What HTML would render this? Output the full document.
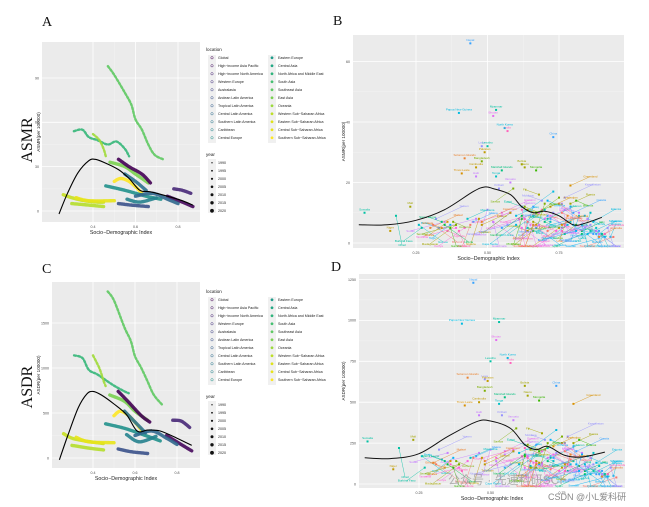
<!DOCTYPE html>
<html><head><meta charset="utf-8">
<style>
html,body{margin:0;padding:0;background:#fff;}
svg{display:block;font-family:"Liberation Sans","Noto Sans CJK SC",sans-serif;}
.serif{font-family:"Liberation Serif",serif;}
</style></head>
<body>
<svg id="fig" width="649" height="507" viewBox="0 0 649 507"></svg>
<script>
// ---------- DATA: panel A/C regional trajectories (SDI, value) ----------
const regionNames = ["East Asia","South Asia","Oceania","Southeast Asia","Global","Central Sub-Saharan Africa","Caribbean","Central Latin America","High-income North America","Western Europe","Andean Latin America","Tropical Latin America","Central Europe","Western Sub-Saharan Africa","Eastern Sub-Saharan Africa","Southern Sub-Saharan Africa"];
const regionColors = ["#5ec962","#35b779","#a0da39","#7ad151","#440154","#fde725","#21918c","#2c728e","#482878","#46085c","#3b528b","#31688e","#26828e","#b5de2b","#c8e020","#e8e419"];
const asmrSdi = [
 [0.47,0.5,0.55,0.58,0.6,0.63,0.66,0.69,0.73],
 [0.31,0.35,0.38,0.42,0.47,0.51,0.55,0.57],
 [0.4,0.43,0.45,0.46],
 [0.48,0.55,0.6,0.66],
 [0.52,0.57,0.63,0.67],
 [0.5,0.53,0.57,0.61,0.63],
 [0.46,0.55,0.65,0.72],
 [0.55,0.6,0.65],
 [0.78,0.82,0.86],
 [0.75,0.82,0.87],
 [0.52,0.58,0.66],
 [0.6,0.68,0.75,0.8],
 [0.56,0.62,0.7],
 [0.3,0.38,0.45],
 [0.26,0.3,0.36,0.42,0.45],
 [0.32,0.38,0.5]];
const asmrVal = [
 [98,92,80,72,62,55,45,38,35],
 [54,55,50,48,45,47,42,37],
 [52,48,42,37],
 [33,30,25,19],
 [35,30,25,19],
 [20,22,20,15,12],
 [17,14,10,8],
 [25,20,14],
 [15,14,12],
 [10,6,3],
 [5,4,3],
 [10,12,8,5],
 [8,6,9],
 [5,4,3],
 [11,9,7,6,6],
 [9,7,7]];
const asdrVal = [
 [1850,1750,1450,1300,1130,1000,850,700,590],
 [1140,1110,980,930,850,790,740,720],
 [1140,1000,860,800],
 [700,630,520,420],
 [740,620,470,400],
 [470,520,470,370,310],
 [380,330,250,190],
 [520,400,280],
 [420,410,340],
 [250,150,80],
 [100,70,50],
 [250,300,220,150],
 [260,180,240],
 [140,110,90],
 [270,220,190,170,160],
 [230,180,170]];
const asmrCurveSdi = [0.24,0.28,0.33,0.38,0.41,0.45,0.52,0.57,0.62,0.67,0.75,0.82,0.87];
const asmrCurveVal = [-2,12,26,34,35,33,28,22,14,13,10,7,4];
const asdrCurveSdi = [0.24,0.28,0.33,0.37,0.4,0.44,0.5,0.56,0.61,0.66,0.72,0.8,0.87];
const asdrCurveVal = [-20,250,560,710,740,700,600,480,300,310,300,220,140];
// ---------- DATA: panel B/D countries ----------
const outName = ["Nepal","Papua New Guinea","Myanmar","Bhutan","North Korea","India","China","Laos","Lesotho","Pakistan","Solomon Islands","Bangladesh","Bolivia","Nauru","Timor-Leste","Cambodia","Haiti","Marshall Islands","Mongolia","Tonga","Somalia","Niger","Mali","Kiribati","Vanuatu"];
const outSdi = [0.44,0.40,0.53,0.52,0.56,0.57,0.73,0.48,0.50,0.49,0.42,0.48,0.62,0.63,0.41,0.46,0.46,0.55,0.67,0.53,0.07,0.16,0.23,0.54,0.58];
const outAsmr = [66,43,44,42,38,37,35,32,32,30,28,27,26,25,23,25,22,24,24,22,10,4,12,18,20];
const outAsdr = [1230,980,990,880,770,740,600,640,750,630,650,570,600,540,480,500,420,530,510,490,260,90,270,420,390];
const cloudName = ["Yemen","Sudan","Chad","Guinea","Benin","Togo","Ghana","Kenya","Uganda","Zambia","Malawi","Angola","Gabon","Congo","Egypt","Iran","Iraq","Syria","Jordan","Turkey","Morocco","Algeria","Tunisia","Libya","Oman","Peru","Chile","Cuba","Brazil","Mexico","Panama","Guyana","Belize","Ecuador","Colombia","Jamaica","Russia","Ukraine","Belarus","Latvia","Estonia","Poland","Romania","Serbia","Hungary","Greece","Italy","Spain","France","Germany","Norway","Sweden","Japan","Korea","Canada","USA","Australia","Georgia","Armenia","Uzbekistan","Kazakhstan","Thailand","Vietnam","Malaysia","Fiji","Samoa","Greenland","Sri Lanka","Indonesia","Philippines",
 "Austria","Belgium","Denmark","Finland","Ireland","Portugal","Netherlands","Switzerland","Czechia","Slovakia","Croatia","Slovenia","Bulgaria","Albania","Moldova","Lithuania","Azerbaijan","Tajikistan","Kyrgyzstan","Turkmenistan","Lebanon","Kuwait","Qatar","Bahrain","Israel","Cyprus","Argentina","Uruguay","Paraguay","Venezuela","Honduras","Nicaragua","Guatemala","El Salvador","Costa Rica","Dominica","Grenada","Bahamas","Barbados","Suriname","Singapore","Brunei","Taiwan","Maldives","Mauritius","Seychelles","Botswana","Namibia","South Africa","Zimbabwe","Eswatini","Tanzania","Rwanda","Burundi","Ethiopia","Eritrea","Djibouti","Madagascar","Comoros","Nigeria","Cameroon","Senegal","Gambia","Liberia","Sierra Leone","Burkina Faso","Mauritania","Cape Verde","Saudi Arabia","UAE"];
const cloudSdi = [0.32,0.35,0.18,0.26,0.33,0.37,0.45,0.42,0.36,0.44,0.30,0.46,0.65,0.52,0.62,0.70,0.60,0.58,0.72,0.73,0.55,0.63,0.68,0.69,0.78,0.66,0.77,0.71,0.64,0.66,0.71,0.58,0.61,0.67,0.64,0.67,0.79,0.75,0.81,0.86,0.87,0.84,0.79,0.77,0.82,0.81,0.83,0.83,0.86,0.91,0.93,0.91,0.90,0.88,0.90,0.88,0.89,0.73,0.71,0.66,0.77,0.68,0.62,0.75,0.68,0.59,0.79,0.66,0.63,0.62,
 0.89,0.89,0.92,0.89,0.88,0.76,0.91,0.94,0.85,0.82,0.80,0.86,0.76,0.72,0.69,0.85,0.72,0.58,0.64,0.70,0.71,0.79,0.83,0.80,0.87,0.84,0.76,0.75,0.66,0.66,0.55,0.57,0.52,0.62,0.74,0.68,0.70,0.76,0.77,0.64,0.85,0.81,0.88,0.63,0.72,0.78,0.67,0.62,0.70,0.50,0.55,0.39,0.40,0.31,0.34,0.36,0.48,0.39,0.38,0.47,0.48,0.39,0.37,0.35,0.34,0.27,0.43,0.60,0.76,0.78];
const cloudAsmr = [8,7,9,6,5,6,7,5,4,6,5,8,6,7,12,11,9,10,8,10,9,8,6,11,7,4,3,9,5,6,4,10,8,5,4,6,13,15,14,10,7,9,12,11,10,6,4,3,4,3,2,2,3,4,3,5,2,17,14,12,15,10,11,13,16,18,19,9,12,8,
 3,4,5,3,4,5,3,2,8,9,10,6,13,9,14,8,12,10,11,13,8,7,6,6,3,5,6,5,7,6,5,6,7,5,4,6,8,4,6,7,3,4,3,8,7,6,10,9,7,11,10,5,4,6,5,7,6,6,7,8,7,6,5,6,7,5,8,6,10,9];
const cloudAsdr = [210,190,220,170,150,160,170,140,120,160,130,190,130,160,240,220,190,200,160,190,180,170,130,210,150,100,80,170,110,130,90,210,170,120,100,130,250,290,270,190,130,170,230,210,190,110,80,60,80,60,50,45,60,80,60,110,45,330,270,240,290,200,220,250,310,340,490,180,240,170,
 60,80,100,60,80,100,60,40,160,180,200,120,250,180,270,160,230,200,210,250,160,140,120,120,60,100,120,100,140,120,100,120,140,100,80,120,160,80,120,140,60,80,60,160,140,120,200,180,140,210,200,100,80,120,100,140,120,120,140,160,140,120,100,120,140,100,160,120,200,180];
const cloudRegion = [9,9,13,13,13,13,13,14,14,14,14,12,12,12,9,9,9,9,9,9,9,9,9,9,9,10,11,6,11,7,7,6,6,10,7,6,0,0,0,1,1,1,1,1,1,4,4,4,4,4,4,4,3,3,2,2,5,8,8,8,8,15,15,15,16,16,2,17,15,15,
 4,4,4,4,4,4,4,4,1,1,1,1,1,1,0,0,8,8,8,8,9,9,9,9,9,9,11,11,11,10,7,7,7,7,7,6,6,6,6,6,3,3,3,17,14,14,12,12,12,14,14,14,14,14,14,14,14,14,14,13,12,13,13,13,13,13,13,13,9,9];
const outRegion = [17,16,15,17,15,17,15,15,13,17,16,17,10,16,15,15,6,16,15,16,9,13,13,16,16];
const hue = ["#F8766D","#EA8331","#D89000","#C09B00","#A3A500","#7CAE00","#39B600","#00BB4E","#00BF7D","#00C1A3","#00BFC4","#00BAE0","#00B0F6","#35A2FF","#9590FF","#C77CFF","#E76BF3","#FA62DB","#FF62BC"];
const xTickVals = [0.4,0.6,0.8];
const bTicksX = [0.25,0.50,0.75];
const aTicksY = [0,30,60,90];
const cTicksY = [0,500,1000,1500];
const bTicksY = [0,20,40,60];
const dTicksY = [0,250,500,750,1000,1250];
const years = ["1990","1995","2000","2005","2010","2015","2020"];

const NS="http://www.w3.org/2000/svg";
const svg=document.getElementById('fig');
function mk(tag,attrs,parent,text){const e=document.createElementNS(NS,tag);for(const k in attrs)e.setAttribute(k,attrs[k]);if(text!==undefined)e.textContent=text;(parent||svg).appendChild(e);return e;}
function smooth(pts){
 let d="M"+pts[0][0].toFixed(1)+","+pts[0][1].toFixed(1);
 for(let i=0;i<pts.length-1;i++){const p0=pts[i-1]||pts[i],p1=pts[i],p2=pts[i+1],p3=pts[i+2]||p2;
  const c1=[p1[0]+(p2[0]-p0[0])/6,p1[1]+(p2[1]-p0[1])/6],c2=[p2[0]-(p3[0]-p1[0])/6,p2[1]-(p3[1]-p1[1])/6];
  d+="C"+c1.map(v=>v.toFixed(1)).join(",")+" "+c2.map(v=>v.toFixed(1)).join(",")+" "+p2.join(",");}
 return d;}

function panel(cfg){
 const g=mk('g',{});
 
 
 const bg=mk('rect',{x:cfg.x0,y:cfg.y0,width:cfg.x1-cfg.x0,height:cfg.y1-cfg.y0,fill:'#ebebeb'},g);
 
 
 const sx=v=>cfg.xa+(v-cfg.xv0)*cfg.xs, sy=v=>cfg.ya-v*cfg.ys;
 for(let i=0;i<cfg.xt.length-1;i++){const m=(sx(cfg.xt[i])+sx(cfg.xt[i+1]))/2;mk('line',{x1:m,x2:m,y1:cfg.y0,y2:cfg.y1,stroke:'#f5f5f5','stroke-width':0.4},g);}
 for(let i=0;i<cfg.yt.length-1;i++){const m=(sy(cfg.yt[i])+sy(cfg.yt[i+1]))/2;mk('line',{x1:cfg.x0,x2:cfg.x1,y1:m,y2:m,stroke:'#f5f5f5','stroke-width':0.4},g);}
 cfg.xt.forEach((v,i)=>{const x=sx(v);mk('line',{x1:x,x2:x,y1:cfg.y0,y2:cfg.y1,stroke:'#fff','stroke-width':0.8},g);
  const t=mk('text',{x:x,y:cfg.y1+6,'font-size':3.6,fill:'#4d4d4d','text-anchor':'middle'},g,cfg.xl[i]);
  });
 cfg.yt.forEach(v=>{const y=sy(v);mk('line',{x1:cfg.x0,x2:cfg.x1,y1:y,y2:y,stroke:'#fff','stroke-width':0.8},g);
  const t=mk('text',{x:cfg.x0-3,y:y+1.3,'font-size':3.6,fill:'#4d4d4d','text-anchor':'end'},g,String(v));
  });
 const xt=mk('text',{x:(cfg.x0+cfg.x1)/2,y:cfg.y1+12,'font-size':5.3,fill:'#222','text-anchor':'middle'},g,'Socio−Demographic Index');
 
 const ycx=cfg.ytx, ycy=(cfg.y0+cfg.y1)/2;
 const yt=mk('text',{x:ycx,y:ycy,'font-size':4.6,fill:'#222','text-anchor':'middle',transform:`rotate(-90 ${ycx} ${ycy})`},g,cfg.ytitle);
 
 return {g,sx,sy};
}

function trajPanel(cfg,vals,cSdi,cVal,legendY){
 const p=panel(cfg);
 asmrSdi.forEach((xs,i)=>{
  const pts=xs.map((s,j)=>[+p.sx(s).toFixed(1),+p.sy(vals[i][j]).toFixed(1)]);
  const path=mk('path',{d:smooth(pts),fill:'none',stroke:regionColors[i],'stroke-width':i<3?2.4:3.4,'stroke-dasharray':i<3?'2 2':'1.6 0.6','stroke-linecap':'round',opacity:0.9},p.g);
  
  
 });
 const cpts=cSdi.map((s,j)=>[+p.sx(s).toFixed(1),+p.sy(cVal[j]).toFixed(1)]);
 const cur=mk('path',{d:smooth(cpts),fill:'none',stroke:'#000','stroke-width':1.1},p.g);
 
 const lg=mk('g',{},p.g);
 
 mk('text',{x:206,y:legendY,'font-size':4.6,fill:'#222'},lg,'location');
 const locs=["Global","High−income Asia Pacific","High−income North America","Western Europe","Australasia","Andean Latin America","Tropical Latin America","Central Latin America","Southern Latin America","Caribbean","Central Europe","Eastern Europe","Central Asia","North Africa and Middle East","South Asia","Southeast Asia","East Asia","Oceania","Western Sub−Saharan Africa","Eastern Sub−Saharan Africa","Central Sub−Saharan Africa","Southern Sub−Saharan Africa"];
 const lcol=["#440154","#471365","#482475","#463480","#414487","#3b528b","#355f8d","#2f6c8e","#2a788e","#25848e","#21918c","#1e9c89","#22a884","#2fb47c","#44bf70","#5ec962","#7ad151","#9bd93c","#bddf26","#dfe318","#e8e419","#fde725"];
 mk('rect',{x:208,y:legendY+4,width:8,height:88,fill:'#f0f0f0'},lg);
 mk('rect',{x:268,y:legendY+4,width:8,height:88,fill:'#f0f0f0'},lg);
 locs.forEach((n,i)=>{const col=i<11?0:1,r=i%11;const gx=col?272:212,ty=legendY+8+r*8;
  const e=mk('g',{},lg);
  
  mk('circle',{cx:gx,cy:ty-1.2,r:1.2,fill:col?lcol[i]:'none',stroke:lcol[i],'stroke-width':0.5},e);
  mk('text',{x:gx+6,y:ty,'font-size':3.6,fill:'#222'},e,n);});
 const yy=legendY+105;
 mk('text',{x:206,y:yy,'font-size':4.6,fill:'#222'},lg,'year');
 mk('rect',{x:208,y:yy+3,width:8,height:54,fill:'#f0f0f0'},lg);
 years.forEach((yr,i)=>{const ty=yy+8+i*8;
  const e=mk('g',{},lg);
  
  mk('circle',{cx:212,cy:ty-1.2,r:0.7+i*0.2,fill:'#111'},e);
  mk('text',{x:218,y:ty,'font-size':3.6,fill:'#222'},e,yr);});
}
trajPanel({name:'panel-a',x0:42,x1:200,y0:42,y1:222,xa:93,xv0:0.4,xs:212.5,ya:211,ys:1.478,xt:xTickVals,xl:["0.4","0.6","0.8"],yt:aTicksY,ytx:40,ytitle:'ASMR(per 100000)'},asmrVal,asmrCurveSdi,asmrCurveVal,51);
trajPanel({name:'panel-c',x0:52,x1:200,y0:282,y1:468,xa:93,xv0:0.4,xs:210,ya:458,ys:0.09,xt:xTickVals,xl:["0.4","0.6","0.8"],yt:cTicksY,ytx:40,ytitle:'ASDR(per 100000)'},asdrVal,asdrCurveSdi,asdrCurveVal,293);

function countryPanel(cfg,oVals,cVals,cSdi,cVal){
 const p=panel(cfg);
 const all=[];
 outName.forEach((n,i)=>all.push([n,outSdi[i],oVals[i],outRegion[i],true]));
 cloudName.forEach((n,i)=>all.push([n,cloudSdi[i],cVals[i],cloudRegion[i],false]));
 const cur=mk('path',{d:smooth(cSdi.map((s,j)=>[+p.sx(s).toFixed(1),+p.sy(cVal[j]).toFixed(1)]))},p.g);
 const dxs=[-18,20,-26,12,-8,28,-34,6,24,-14];
 const dys=[14,-8,20,6,26,-12,10,30,18,-4];
 all.forEach((d,i)=>{
  const x=p.sx(d[1]),y=p.sy(d[2]),c=hue[(d[3]*3+i)%19];
  const e=mk('g',{},p.g);
  
  let lx=x,ly=y-2.5;
  if(!d[4]){const k=i%10;lx=Math.min(cfg.x1-8,Math.max(cfg.x0+8,x+dxs[k]));ly=Math.min(cfg.y1-1,Math.max(cfg.y0+4,y+dys[k]));
   mk('line',{x1:x,y1:y,x2:lx,y2:ly-1,stroke:c,'stroke-width':0.4},e);}
  mk('rect',{x:x-1,y:y-1,width:2,height:2,fill:c},e);
  mk('text',{x:lx,y:ly,'font-size':3,fill:c,'text-anchor':'middle'},e,d[0]);
 });
 cur.setAttribute('fill','none');cur.setAttribute('stroke','#111');cur.setAttribute('stroke-width','1');
 p.g.appendChild(cur);
 
}
countryPanel({name:'panel-b',x0:353,x1:624,y0:35,y1:248,xa:416,xv0:0.25,xs:286,ya:243,ys:3.025,xt:bTicksX,xl:["0.25","0.50","0.75"],yt:bTicksY,ytx:345,ytitle:'ASMR(per 100000)'},outAsmr,cloudAsmr,[0.05,0.15,0.25,0.35,0.45,0.49,0.52,0.58,0.62,0.66,0.7,0.75,0.8,0.84,0.9],[6,6,7.5,11,17,18.5,18,16,12,10,10.5,9,6,6.5,8.5]);
countryPanel({name:'panel-d',x0:359,x1:625,y0:274,y1:488,xa:419,xv0:0.25,xs:286,ya:484,ys:0.1636,xt:bTicksX,xl:["0.25","0.50","0.75"],yt:dTicksY,ytx:345,ytitle:'ASDR(per 100000)'},outAsdr,cloudAsdr,[0.06,0.15,0.25,0.35,0.45,0.5,0.57,0.62,0.66,0.7,0.76,0.82,0.9],[160,155,185,290,380,385,340,240,210,230,175,165,195]);

[["A",42,26,'panel-a-label'],["B",333,25,'panel-b-label'],["C",42,273,'panel-c-label'],["D",331,271,'panel-d-label']].forEach(a=>{
 const t=mk('text',{x:a[1],y:a[2],'font-size':14,fill:'#111',class:'serif'},svg,a[0]);
 });
[["ASMR",32,140,'panel-a-big-title'],["ASDR",32,387,'panel-c-big-title']].forEach(a=>{
 const t=mk('text',{x:a[1],y:a[2],'font-size':16,fill:'#111',class:'serif','text-anchor':'middle',transform:`rotate(-90 ${a[1]} ${a[2]})`},svg,a[0]);
 });
const w1=mk('text',{x:448,y:484,'font-size':12,fill:'#9a9a9a',opacity:0.75},svg,'公众号 · 先速科研SCI');

const w2=mk('text',{x:548,y:500,'font-size':9,fill:'#888'},svg,'CSDN @小L爱科研');

</script>
</body></html>
